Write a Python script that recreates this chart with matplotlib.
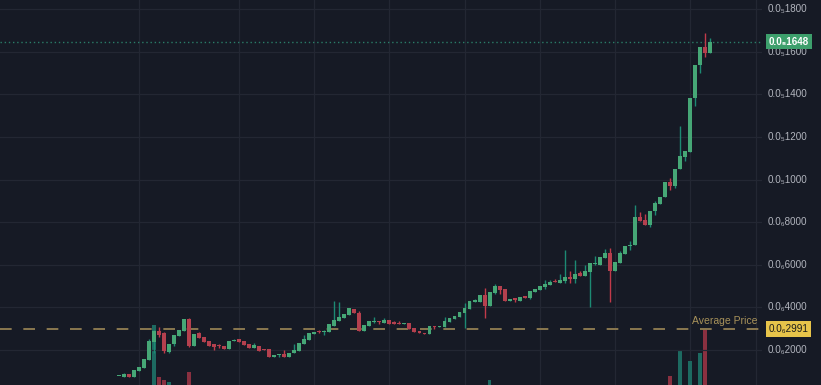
import matplotlib
matplotlib.use("Agg")
import matplotlib.pyplot as plt
import numpy as np

# ---- data (prices in units of 1e-7) ----
opens = [0.76, 0.75, 0.87, 0.75, 1.03, 1.17, 1.53, 2.39, 2.89, 2.80,
         1.92, 2.27, 2.66, 2.91, 3.46, 2.19, 2.78, 2.62, 2.44, 2.27,
         2.20, 2.19, 2.03, 2.42, 2.50, 2.44, 2.28, 2.11, 2.20, 2.05,
         2.03, 1.66, 1.77, 1.82, 1.69, 1.85, 1.97, 2.28, 2.47, 2.75,
         2.87, 2.84, 2.86, 3.14, 3.37, 3.52, 3.64, 3.92, 3.75, 2.91,
         3.13, 3.33, 3.35, 3.28, 3.41, 3.30, 3.27, 3.21, 3.27, 3.03,
         2.91, 2.81, 2.74, 3.13, 3.09, 3.09, 3.31, 3.45, 3.56, 3.72,
         3.91, 4.27, 4.27, 4.58, 4.06, 4.69, 5.00, 4.85, 4.29, 4.39,
         4.31, 4.52, 4.43, 4.74, 4.82, 4.97, 5.05, 5.24, 5.16, 5.24,
         5.44, 5.33, 5.60, 5.47, 5.67, 6.03, 5.99, 6.30, 6.54, 5.72,
         6.10, 6.50, 6.90, 6.91, 8.23, 8.10, 7.88, 8.54, 8.85, 9.17,
         9.90, 9.70, 10.48, 11.07, 11.31, 13.82, 15.38, 16.21, 15.93]
closes = [0.80, 0.87, 0.75, 1.06, 1.22, 1.58, 2.42, 2.91, 2.70, 1.95,
          2.28, 2.70, 2.94, 3.46, 2.19, 2.75, 2.58, 2.36, 2.20, 2.15,
          2.18, 2.03, 2.44, 2.48, 2.39, 2.23, 2.11, 2.23, 1.97, 2.00,
          1.66, 1.77, 1.82, 1.69, 1.87, 2.00, 2.34, 2.52, 2.78, 2.86,
          2.84, 2.90, 3.21, 3.41, 3.56, 3.69, 3.96, 3.72, 2.91, 3.16,
          3.35, 3.36, 3.30, 3.41, 3.24, 3.24, 3.21, 3.28, 2.98, 2.86,
          2.78, 2.74, 3.13, 3.10, 3.14, 3.35, 3.50, 3.60, 3.80, 3.96,
          4.28, 4.35, 4.58, 4.06, 4.74, 5.00, 4.81, 4.29, 4.39, 4.37,
          4.50, 4.43, 4.77, 4.86, 5.02, 5.10, 5.21, 5.18, 5.29, 5.44,
          5.33, 5.57, 5.49, 5.72, 6.07, 6.07, 6.35, 6.54, 5.72, 6.12,
          6.54, 6.90, 6.95, 8.23, 8.07, 7.88, 8.54, 8.91, 9.20, 9.90,
          9.70, 10.50, 11.11, 11.34, 13.84, 15.38, 16.21, 15.93, 16.46]
highs = [0.80, 0.90, 0.87, 1.06, 1.22, 1.58, 2.52, 2.95, 3.09, 2.85,
         2.28, 2.70, 2.94, 3.46, 3.48, 2.75, 2.85, 2.62, 2.44, 2.27,
         2.30, 2.19, 2.44, 2.52, 2.50, 2.44, 2.28, 2.33, 2.20, 2.05,
         2.03, 1.77, 1.82, 2.00, 1.87, 2.28, 2.34, 2.70, 2.78, 2.86,
         2.94, 2.94, 3.21, 4.30, 4.25, 3.69, 3.96, 3.92, 3.83, 3.16,
         3.35, 3.56, 3.35, 3.52, 3.41, 3.35, 3.36, 3.28, 3.27, 3.03,
         2.91, 2.81, 3.13, 3.14, 3.14, 3.54, 3.50, 3.60, 3.80, 4.22,
         4.28, 4.40, 4.58, 4.89, 4.74, 5.08, 5.00, 4.85, 4.39, 4.45,
         4.50, 4.52, 4.77, 4.86, 5.02, 5.29, 5.29, 5.33, 5.57, 6.69,
         5.71, 6.22, 5.71, 5.97, 6.07, 6.41, 6.35, 6.73, 6.77, 6.12,
         6.66, 6.90, 7.11, 8.81, 8.46, 8.38, 8.54, 9.00, 9.20, 9.90,
         10.09, 10.50, 12.52, 11.34, 13.84, 15.38, 16.21, 16.87, 16.63]
lows = [0.76, 0.75, 0.75, 0.75, 1.03, 1.17, 1.53, 1.86, 2.62, 1.86,
        1.85, 2.20, 2.66, 2.91, 2.15, 2.19, 2.58, 2.36, 2.20, 2.00,
        2.08, 2.03, 2.03, 2.42, 2.39, 2.23, 2.11, 2.11, 1.97, 2.00,
        1.66, 1.66, 1.69, 1.69, 1.69, 1.85, 1.97, 2.28, 2.47, 2.75,
        2.78, 2.72, 2.86, 3.14, 3.37, 3.52, 3.64, 3.72, 2.91, 2.91,
        3.13, 3.25, 3.21, 3.28, 3.24, 3.24, 3.21, 3.21, 2.98, 2.86,
        2.78, 2.74, 2.74, 2.97, 3.09, 3.09, 3.31, 3.45, 3.56, 3.05,
        3.91, 4.27, 4.27, 3.49, 4.06, 4.65, 4.63, 4.29, 4.29, 4.27,
        4.31, 4.43, 4.38, 4.74, 4.82, 4.88, 5.05, 5.18, 5.16, 5.15,
        5.16, 5.16, 5.46, 5.47, 4.03, 6.00, 5.99, 6.30, 4.26, 5.72,
        6.10, 6.50, 6.69, 6.91, 8.07, 7.88, 7.79, 8.35, 8.85, 9.17,
        9.51, 9.59, 10.48, 10.87, 11.31, 13.47, 14.99, 15.74, 15.93]

# visible volume bars (candle index, volume in arbitrary units)
vol_index = [7, 8, 9, 10, 14, 74, 110, 112, 114, 116, 117]
vol_values = [60, 8.3, 5, 3.3, 13.3, 5, 9, 35, 24, 31.7, 56]

avg_price = 2.991
last_price = 16.48
tick_values = [2, 4, 6, 8, 10, 12, 14, 16, 18]
tick_labels = ["0.0\u20862000", "0.0\u20864000", "0.0\u20866000", "0.0\u20868000",
               "0.0\u20851000", "0.0\u20851200", "0.0\u20851400", "0.0\u20851600",
               "0.0\u20851800"]
vgrid_idx = [4, 24, 39, 54, 69, 84, 99, 114, 127.3]

# ---- style ----
BG = "#161a25"
GRID = "#232733"
UP = "#46a776"
DOWN = "#b4404e"
UP_WICK = "#1c8a73"
DOWN_WICK = "#c23a4a"
VOL_UP = "#1d6a61"
VOL_DOWN = "#8a3040"
TXT = "#b2b5be"
FONT = ["Liberation Sans", "DejaVu Sans"]

W, H = 821, 385
fig = plt.figure(figsize=(W / 100, H / 100), dpi=100)
fig.patch.set_facecolor(BG)
plot_w = 762 / W
axv = fig.add_axes([0, 0, plot_w, 1])
axv.set_facecolor(BG)
ax = fig.add_axes([0, 0, plot_w, 1], sharex=axv)
ax.patch.set_visible(False)

n = len(opens)
x = np.arange(n)
o = np.array(opens); c = np.array(closes); hi = np.array(highs); lo = np.array(lows)
up = c >= o

# grid (drawn on the back axes)
axv.set_ylim(0, 385)
for g in vgrid_idx:
    axv.axvline(g, color=GRID, lw=0.9, zorder=0)
for v in tick_values:
    ax.axhline(v, color=GRID, lw=0.9, zorder=0)

# volume
vcol = [VOL_UP if up[i] else VOL_DOWN for i in vol_index]
axv.bar(vol_index, vol_values, width=0.75, color=vcol, linewidth=0, zorder=1)
axv.axis("off")

# wicks
ax.vlines(x[up], lo[up], hi[up], color=UP_WICK, lw=1.0, zorder=3)
ax.vlines(x[~up], lo[~up], hi[~up], color=DOWN_WICK, lw=1.0, zorder=3)
# bodies
bottoms = np.minimum(o, c)
heights = np.maximum(np.abs(c - o), 0.05)
ax.bar(x[up], heights[up], bottom=bottoms[up], width=0.78, color=UP, zorder=4, linewidth=0)
ax.bar(x[~up], heights[~up], bottom=bottoms[~up], width=0.78, color=DOWN, zorder=4, linewidth=0)

# average price line
ax.axhline(avg_price, color="#8a7850", lw=1.4, ls=(0, (6, 6)), zorder=2)
ax.text(127.5, avg_price + 0.13, "Average Price", color="#a8925a", fontsize=7.5,
        family=FONT, ha="right", va="bottom", zorder=6)
# last price dotted
ax.axhline(last_price, color="#2a7d68", lw=1.0, ls=(0, (1, 2)), zorder=2)

ax.set_xlim(-23.76, 128.4)
ax.set_ylim(0.357, 18.43)
ax.axis("off")

# price scale labels
lab = fig.add_axes([plot_w, 0, 1 - plot_w, 1])
lab.set_facecolor(BG)
lab.set_xlim(0, 1)
lab.set_ylim(0.357, 18.43)
lab.axis("off")
for v, t in zip(tick_values, tick_labels):
    lab.text(0.1, v, t, color=TXT, fontsize=7.1, family=FONT,
             ha="left", va="center", zorder=2)

lab.text(0.45, last_price, "0.0\u20851648", color="white", fontsize=7.1, fontweight="bold",
         family=FONT, ha="center", va="center", zorder=5,
         bbox=dict(boxstyle="square,pad=0.3", fc="#3d9f6c", ec="none"))
lab.text(0.45, avg_price, "0.0\u20862991", color="#1a1a1a", fontsize=7.1,
         family=FONT, ha="center", va="center", zorder=5,
         bbox=dict(boxstyle="square,pad=0.3", fc="#e7c44a", ec="none"))

fig.savefig("out.png", dpi=100, facecolor=BG)
